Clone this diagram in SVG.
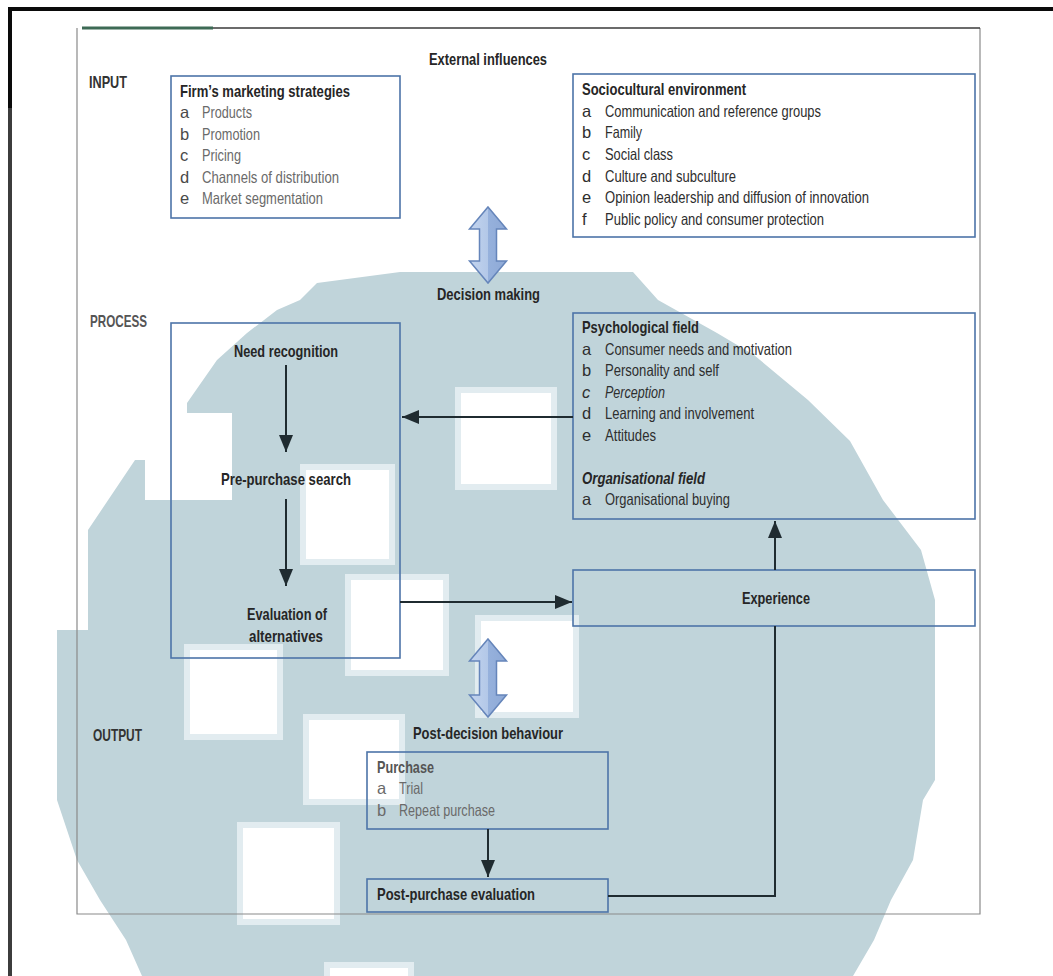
<svg xmlns="http://www.w3.org/2000/svg" width="1053" height="976" viewBox="0 0 1053 976">
<style>
.t{font-family:"Liberation Sans","DejaVu Sans",sans-serif;font-size:16.5px;fill:#2e2e2e}
.b{font-weight:bold;fill:#262626}
.bi{font-weight:bold;font-style:italic;fill:#262626}
.it{font-style:italic}
.g{fill:#6a6a6a}
.gl{fill:#4a4a4a}
.lab{font-family:"Liberation Sans","DejaVu Sans",sans-serif;font-size:17px;font-weight:bold;fill:#333}
.box{fill:none;stroke:#4d74a8;stroke-width:1.6}
.con{fill:none;stroke:#1f2b30;stroke-width:2}
.ws{fill:#ffffff;stroke:#e2ecf0;stroke-width:6}
.dbl{fill:url(#ag);stroke:#6585ba;stroke-width:1.5}
</style>
<defs>
<marker id="ah" markerUnits="userSpaceOnUse" markerWidth="18" markerHeight="16" refX="17" refY="8" orient="auto">
<path d="M0,1 L17,8 L0,15 Z" fill="#1f2b30"/>
</marker>
<linearGradient id="ag" x1="0" y1="0" x2="1" y2="0">
<stop offset="0" stop-color="#c3d4ee"/>
<stop offset="0.5" stop-color="#b3c8e8"/>
<stop offset="0.5" stop-color="#96b1dc"/>
<stop offset="1" stop-color="#8ea9d6"/>
</linearGradient>
</defs>
<rect width="1053" height="976" fill="#ffffff"/>
<g id="watermark">
<path d="M400,272 L633,272 L658,300 L717,333 L754,355 L808,400 L850,441 L883,500 L921,550 L935,600 L935,780 L923,800 L913,860 L891,900 L874,940 L853,976 L142,976 L126,940 L100,900 L77,860 L57,800 L57,630 L88,630 L88,530 L135,460 L145,460 L145,500 L232,500 L232,413 L187,413 L187,403 L217,360 L247,333 L277,310 L300,300 L317,283 Z" fill="#c0d4da"/>
<rect class="ws" x="303" y="467" width="89" height="95"/>
<rect class="ws" x="348" y="577" width="98" height="96"/>
<rect class="ws" x="458" y="390" width="96" height="97"/>
<rect class="ws" x="478" y="618" width="98" height="97"/>
<rect class="ws" x="187" y="647" width="93" height="90"/>
<rect class="ws" x="306" y="717" width="96" height="85"/>
<rect class="ws" x="240" y="825" width="97" height="97"/>
<rect class="ws" x="327" y="965" width="84" height="14"/>
</g>
<g id="frame">
<rect x="8" y="7" width="1045" height="4" fill="#0a0a0a"/>
<rect x="8" y="7" width="4" height="101" fill="#0a0a0a"/>
<rect x="8" y="108" width="4" height="868" fill="#3c3c3c"/>
<path d="M77,28 V914 H980 V28" fill="none" stroke="#8a8a8a" stroke-width="1.2"/>
<line x1="82" y1="28" x2="980" y2="28" stroke="#3a3a3a" stroke-width="1.5"/>
<line x1="82" y1="28" x2="213" y2="28" stroke="#3d6a55" stroke-width="3"/>
</g>
<g id="labels">
<text class="lab" x="89" y="88" textLength="38" lengthAdjust="spacingAndGlyphs">INPUT</text>
<text class="lab" x="90" y="327" textLength="57" lengthAdjust="spacingAndGlyphs" style="fill:#555">PROCESS</text>
<text class="lab" x="93" y="741" textLength="49" lengthAdjust="spacingAndGlyphs">OUTPUT</text>
<text class="t b" x="429" y="65" textLength="118" lengthAdjust="spacingAndGlyphs">External influences</text>
<text class="t b" x="437" y="300" textLength="103" lengthAdjust="spacingAndGlyphs">Decision making</text>
<text class="t b" x="413" y="739" textLength="150" lengthAdjust="spacingAndGlyphs">Post-decision behaviour</text>
</g>
<g id="firm-strategies">
<rect class="box" x="171" y="76" width="229" height="142"/>
<text class="t b" x="180" y="97" textLength="170" lengthAdjust="spacingAndGlyphs">Firm’s marketing strategies</text>
<text class="t gl" x="180" y="118">a</text><text class="t g" x="202" y="118" textLength="50" lengthAdjust="spacingAndGlyphs">Products</text>
<text class="t gl" x="180" y="140">b</text><text class="t g" x="202" y="140" textLength="58" lengthAdjust="spacingAndGlyphs">Promotion</text>
<text class="t gl" x="180" y="161">c</text><text class="t g" x="202" y="161" textLength="39" lengthAdjust="spacingAndGlyphs">Pricing</text>
<text class="t gl" x="180" y="183">d</text><text class="t g" x="202" y="183" textLength="137" lengthAdjust="spacingAndGlyphs">Channels of distribution</text>
<text class="t gl" x="180" y="204">e</text><text class="t g" x="202" y="204" textLength="121" lengthAdjust="spacingAndGlyphs">Market segmentation</text>
</g>
<g id="sociocultural">
<rect class="box" x="573" y="74" width="402" height="163"/>
<text class="t b" x="582" y="95" textLength="164" lengthAdjust="spacingAndGlyphs">Sociocultural environment</text>
<text class="t" x="582" y="117">a</text><text class="t" x="605" y="117" textLength="216" lengthAdjust="spacingAndGlyphs">Communication and reference groups</text>
<text class="t" x="582" y="138">b</text><text class="t" x="605" y="138" textLength="37" lengthAdjust="spacingAndGlyphs">Family</text>
<text class="t" x="582" y="160">c</text><text class="t" x="605" y="160" textLength="68" lengthAdjust="spacingAndGlyphs">Social class</text>
<text class="t" x="582" y="182">d</text><text class="t" x="605" y="182" textLength="131" lengthAdjust="spacingAndGlyphs">Culture and subculture</text>
<text class="t" x="582" y="203">e</text><text class="t" x="605" y="203" textLength="264" lengthAdjust="spacingAndGlyphs">Opinion leadership and diffusion of innovation</text>
<text class="t" x="582" y="225">f</text><text class="t" x="605" y="225" textLength="219" lengthAdjust="spacingAndGlyphs">Public policy and consumer protection</text>
</g>
<g id="arrow-input">
<path class="dbl" d="M488,207 L506.5,229 L496.5,229 L496.5,261 L506.5,261 L488,283 L469.5,261 L479.5,261 L479.5,229 L469.5,229 Z"/>
</g>
<g id="decision-making">
<rect class="box" x="171" y="323" width="229" height="335"/>
<text class="t b" x="234" y="357" textLength="104" lengthAdjust="spacingAndGlyphs">Need recognition</text>
<text class="t b" x="221" y="485" textLength="130" lengthAdjust="spacingAndGlyphs">Pre-purchase search</text>
<text class="t b" x="247" y="620" textLength="80" lengthAdjust="spacingAndGlyphs">Evaluation of</text>
<text class="t b" x="249" y="642" textLength="74" lengthAdjust="spacingAndGlyphs">alternatives</text>
</g>
<g id="psychological-field">
<rect class="box" x="573" y="313" width="402" height="206"/>
<text class="t b" x="582" y="333" textLength="117" lengthAdjust="spacingAndGlyphs">Psychological field</text>
<text class="t" x="582" y="355">a</text><text class="t" x="605" y="355" textLength="187" lengthAdjust="spacingAndGlyphs">Consumer needs and motivation</text>
<text class="t" x="582" y="376">b</text><text class="t" x="605" y="376" textLength="114" lengthAdjust="spacingAndGlyphs">Personality and self</text>
<text class="t it" x="582" y="398">c</text><text class="t it" x="605" y="398" textLength="60" lengthAdjust="spacingAndGlyphs">Perception</text>
<text class="t" x="582" y="419">d</text><text class="t" x="605" y="419" textLength="149" lengthAdjust="spacingAndGlyphs">Learning and involvement</text>
<text class="t" x="582" y="441">e</text><text class="t" x="605" y="441" textLength="51" lengthAdjust="spacingAndGlyphs">Attitudes</text>
<text class="t bi" x="582" y="484" textLength="123" lengthAdjust="spacingAndGlyphs">Organisational field</text>
<text class="t" x="582" y="505">a</text><text class="t" x="605" y="505" textLength="125" lengthAdjust="spacingAndGlyphs">Organisational buying</text>
</g>
<g id="experience">
<rect class="box" x="573" y="570" width="402" height="56"/>
<text class="t b" x="742" y="604" textLength="68" lengthAdjust="spacingAndGlyphs">Experience</text>
</g>
<g id="arrow-output">
<path class="dbl" d="M488,639 L506.5,661 L496.5,661 L496.5,695 L506.5,695 L488,717 L469.5,695 L479.5,695 L479.5,661 L469.5,661 Z"/>
</g>
<g id="purchase">
<rect class="box" x="367" y="752" width="241" height="77"/>
<text class="t b" x="377" y="773" textLength="57" lengthAdjust="spacingAndGlyphs" style="fill:#555">Purchase</text>
<text class="t g" x="377" y="794">a</text><text class="t g" x="399" y="794" textLength="24" lengthAdjust="spacingAndGlyphs">Trial</text>
<text class="t g" x="377" y="816">b</text><text class="t g" x="399" y="816" textLength="96" lengthAdjust="spacingAndGlyphs">Repeat purchase</text>
</g>
<g id="post-purchase">
<rect class="box" x="367" y="879" width="241" height="33"/>
<text class="t b" x="377" y="900" textLength="158" lengthAdjust="spacingAndGlyphs">Post-purchase evaluation</text>
</g>
<g id="connectors">
<line class="con" x1="286" y1="365" x2="286" y2="452" marker-end="url(#ah)"/>
<line class="con" x1="286" y1="499" x2="286" y2="586" marker-end="url(#ah)"/>
<line class="con" x1="573" y1="417" x2="402" y2="417" marker-end="url(#ah)"/>
<line class="con" x1="400" y1="602" x2="572" y2="602" marker-end="url(#ah)"/>
<line class="con" x1="775" y1="570" x2="775" y2="521" marker-end="url(#ah)"/>
<line class="con" x1="488" y1="829" x2="488" y2="877" marker-end="url(#ah)"/>
<polyline class="con" points="608,896 775,896 775,626"/>
</g>
</svg>
